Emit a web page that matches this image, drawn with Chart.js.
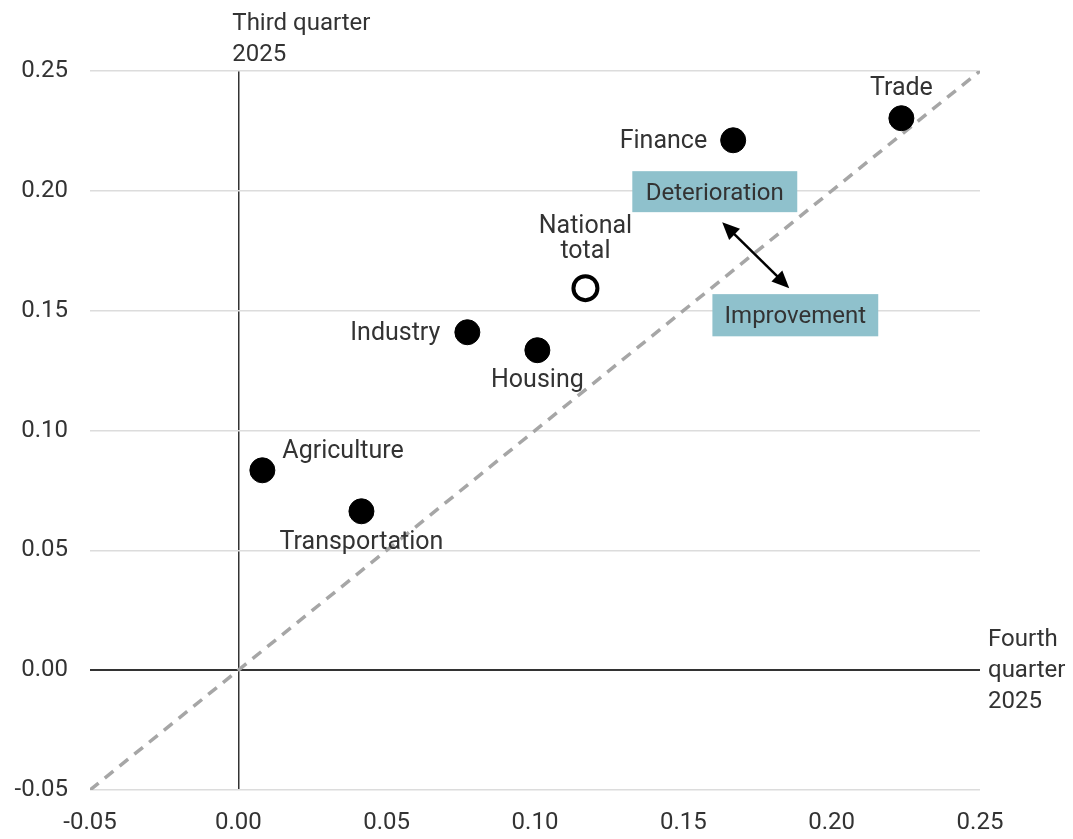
<!DOCTYPE html>
<html>
<head>
<meta charset="utf-8">
<script src="https://cdn.jsdelivr.net/npm/chart.js@4"></script>
<style>
  html, body { margin: 0; padding: 0; background: #fff; }
  #wrap { width: 1073px; height: 839px; }
</style>
</head>
<body>
<div id="wrap"><canvas id="chart"></canvas></div>
<script>
// sectors, fourth quarter (x) vs third quarter (y)
const sectors = ["Trade", "Finance", "National total", "Industry", "Housing", "Agriculture", "Transportation"];
const q4Values = [0.2235, 0.1668, 0.117, 0.0772, 0.1008, 0.0081, 0.0415];
const q3Values = [0.2303, 0.2211, 0.1594, 0.1410, 0.1335, 0.0834, 0.0663];
const axisTicks = [-0.05, 0.00, 0.05, 0.10, 0.15, 0.20, 0.25];
const diagonal = [-0.05, 0.25];

const textColor = "#333";
const font = "Roboto, 'Open Sans', sans-serif";

// where each label sits relative to its point
const labelPos = {
    "Trade": { dx: 0, dy: -29, align: "center", lines: ["Trade"] },
    "Finance": { dx: -26, dy: 1, align: "right", lines: ["Finance"] },
    "National total": { dx: 0, dy: -61, align: "center", lines: ["National", "total"] },
    "Industry": { dx: -27, dy: 2, align: "right", lines: ["Industry"] },
    "Housing": { dx: 0, dy: 31, align: "center", lines: ["Housing"] },
    "Agriculture": { dx: 20, dy: -19, align: "left", lines: ["Agriculture"] },
    "Transportation": { dx: 0, dy: 31, align: "center", lines: ["Transportation"] }
};

const filled = [];
const open = [];
sectors.forEach((s, i) => {
    const p = { x: q4Values[i], y: q3Values[i] };
    if (s === "National total") open.push(p); else filled.push(p);
});

const annotations = {
    id: "annotations",
    afterDatasetsDraw(chart) {
        const ctx = chart.ctx;
        const xs = chart.scales.x, ys = chart.scales.y;
        ctx.save();
        ctx.font = "25px " + font;
        ctx.fillStyle = textColor;
        ctx.textBaseline = "middle";

        sectors.forEach((s, i) => {
            const lp = labelPos[s];
            const px = xs.getPixelForValue(q4Values[i]) + lp.dx;
            const py = ys.getPixelForValue(q3Values[i]) + lp.dy;
            ctx.textAlign = lp.align;
            lp.lines.forEach((t, k) => ctx.fillText(t, px, py + k * 25));
        });

        // boxes
        const boxes = [
            { text: "Deterioration", x0: 0.1328, x1: 0.1884, y0: 0.2082, y1: 0.1911 },
            { text: "Improvement", x0: 0.1598, x1: 0.2157, y0: 0.1569, y1: 0.1393 }
        ];
        boxes.forEach(b => {
            const l = xs.getPixelForValue(b.x0), r = xs.getPixelForValue(b.x1);
            const t = ys.getPixelForValue(b.y0), btm = ys.getPixelForValue(b.y1);
            ctx.fillStyle = "#8fc1cc";
            ctx.fillRect(l, t, r - l, btm - t);
            ctx.fillStyle = textColor;
            ctx.textAlign = "center";
            ctx.font = "24px " + font;
            ctx.fillText(b.text, (l + r) / 2, (t + btm) / 2 + 2);
        });

        // double arrow
        const ax0 = xs.getPixelForValue(0.1631), ay0 = ys.getPixelForValue(0.1869);
        const ax1 = xs.getPixelForValue(0.1857), ay1 = ys.getPixelForValue(0.1594);
        const ang = Math.atan2(ay1 - ay0, ax1 - ax0);
        const head = 19, hw = 0.42;
        ctx.strokeStyle = "#000";
        ctx.fillStyle = "#000";
        ctx.lineWidth = 2.5;
        ctx.beginPath();
        ctx.moveTo(ax0 + Math.cos(ang) * head * 0.8, ay0 + Math.sin(ang) * head * 0.8);
        ctx.lineTo(ax1 - Math.cos(ang) * head * 0.8, ay1 - Math.sin(ang) * head * 0.8);
        ctx.stroke();
        [[ax0, ay0, ang + Math.PI], [ax1, ay1, ang]].forEach(([hx, hy, a]) => {
            ctx.beginPath();
            ctx.moveTo(hx, hy);
            ctx.lineTo(hx - Math.cos(a - hw) * head, hy - Math.sin(a - hw) * head);
            ctx.lineTo(hx - Math.cos(a + hw) * head, hy - Math.sin(a + hw) * head);
            ctx.closePath();
            ctx.fill();
        });

        // axis titles
        ctx.fillStyle = textColor;
        ctx.font = "24px " + font;
        ctx.textAlign = "left";
        const x0px = xs.getPixelForValue(0);
        ctx.fillText("Third quarter", x0px - 6, chart.chartArea.top - 47);
        ctx.fillText("2025", x0px - 6, chart.chartArea.top - 16);
        const y0px = ys.getPixelForValue(0);
        ctx.fillText("Fourth", chart.chartArea.right + 8, y0px - 30);
        ctx.fillText("quarter", chart.chartArea.right + 8, y0px + 1);
        ctx.fillText("2025", chart.chartArea.right + 8, y0px + 32);
        ctx.restore();
    }
};

new Chart(document.getElementById("chart"), {
    type: "scatter",
    data: {
        datasets: [
            {
                type: "line",
                data: diagonal.map(v => ({ x: v, y: v })),
                borderColor: "#a6a6a6",
                borderWidth: 3.5,
                borderDash: [11, 8],
                pointRadius: 0,
                fill: false,
                order: 3
            },
            {
                data: filled,
                backgroundColor: "#000",
                borderColor: "#000",
                pointRadius: 12.5,
                order: 1
            },
            {
                data: open,
                backgroundColor: "#fff",
                borderColor: "#000",
                borderWidth: 4,
                pointRadius: 12,
                order: 1
            }
        ]
    },
    options: {
        responsive: true,
        maintainAspectRatio: false,
        animation: false,
        layout: { padding: { top: 71, right: 93, left: 0, bottom: 0 } },
        plugins: { legend: { display: false }, tooltip: { enabled: false } },
        scales: {
            x: {
                type: "linear",
                min: axisTicks[0],
                max: axisTicks[axisTicks.length - 1],
                afterBuildTicks: axis => { axis.ticks = axisTicks.map(v => ({ value: v })); },
                afterFit: axis => { axis.height = 49; },
                border: { display: false },
                grid: {
                    drawTicks: false,
                    color: c => Math.abs(c.tick.value) < 1e-9 ? "#333" : "rgba(0,0,0,0)",
                    lineWidth: 1.5
                },
                ticks: {
                    padding: 19,
                    color: textColor,
                    font: { family: font, size: 24 },
                    callback: v => v.toFixed(2)
                }
            },
            y: {
                type: "linear",
                min: axisTicks[0],
                max: axisTicks[axisTicks.length - 1],
                afterBuildTicks: axis => { axis.ticks = axisTicks.map(v => ({ value: v })); },
                afterFit: axis => { axis.width = 90; },
                border: { display: false },
                grid: {
                    drawTicks: false,
                    color: c => Math.abs(c.tick.value) < 1e-9 ? "#333" : "#dcdcdc",
                    lineWidth: c => Math.abs(c.tick.value) < 1e-9 ? 2 : 1.5
                },
                ticks: {
                    padding: 22,
                    color: textColor,
                    font: { family: font, size: 24 },
                    callback: v => v.toFixed(2)
                }
            }
        }
    },
    plugins: [annotations]
});
</script>
</body>
</html>
